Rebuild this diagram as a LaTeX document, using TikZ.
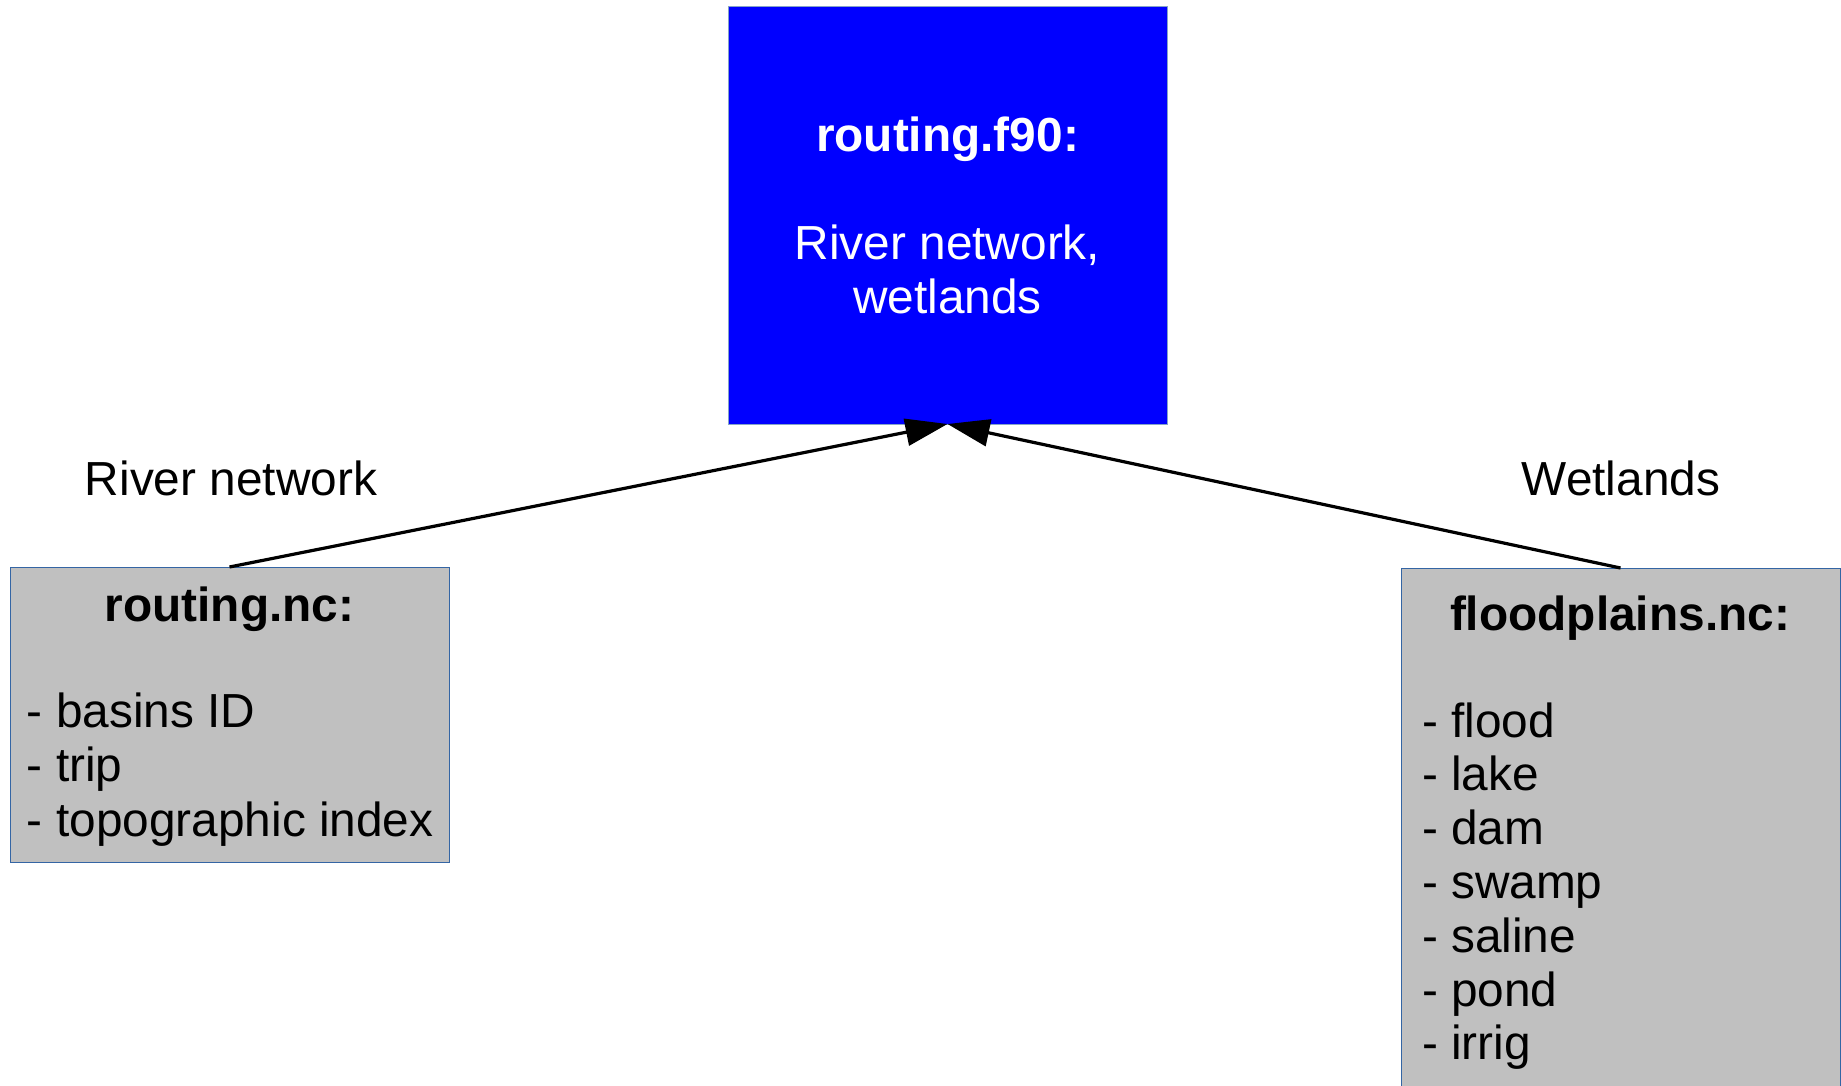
\documentclass[tikz,border=0pt]{standalone}
\usepackage{fontspec}
\setmainfont{Liberation Sans}
\usetikzlibrary{arrows.meta}

\definecolor{codeblue}{HTML}{0000FF}
\definecolor{filegrey}{HTML}{C0C0C0}
\definecolor{edgeblue}{HTML}{3465A4}

\tikzset{
  filebox/.style={draw=edgeblue, line width=1pt, fill=filegrey, rectangle,
    anchor=north west, inner sep=0pt, outer sep=0pt},
  codebox/.style={draw=edgeblue!60, line width=1pt, fill=codeblue, rectangle,
    anchor=north west, inner sep=0pt, outer sep=0pt},
  txt/.style={inner sep=0pt, outer sep=0pt, font=\fontsize{47.8}{53.8}\selectfont},
  head/.style={txt, font=\fontsize{47.8}{53.8}\selectfont\bfseries, anchor=base},
  item/.style={txt, anchor=base west},
  flow/.style={line width=3.2pt, -{Triangle[length=42pt,width=27pt]}},
}

\begin{document}
\begin{tikzpicture}[x=1pt, y=-1pt]
  \useasboundingbox (0,0) rectangle (1841,1086);

  % model source file
  \node[codebox, minimum width=439pt, minimum height=417pt] (f90) at (728,7) {};
  \node[head, text=white] (f90head) at (947.5,152) {routing.f90:};
  \node[txt, anchor=base, text=white] (f90a) at (947.5,259) {River network,};
  \node[txt, anchor=base, text=white] (f90b) at (947.5,313) {wetlands};

  % river routing input file
  \node[filebox, minimum width=439pt, minimum height=295pt] (rnc) at (10,567) {};
  \node[head] (rnchead) at (229.5,621) {routing.nc:};
  \node[item] (rnc1) at (27,727) {- basins ID};
  \node[item] (rnc2) at (27,781.5) {- trip};
  \node[item] (rnc3) at (27,836) {- topographic index};

  % floodplains input file
  \node[filebox, minimum width=439pt, minimum height=530pt] (fnc) at (1401,568) {};
  \node[head] (fnchead) at (1620,630) {floodplains.nc:};
  \foreach \t [count=\i from 0] in {flood,lake,dam,swamp,saline,pond,irrig}
    \node[item] (fnc\i) at (1422,737+53.8*\i) {- \t};

  % connector labels
  \node[txt, anchor=base] (lblriver) at (231,495) {River network};
  \node[txt, anchor=base] (lblwet) at (1621,495) {Wetlands};

  % data flow into the model
  \draw[flow] (rnc.north) -- (f90.south);
  \draw[flow] (fnc.north) -- (f90.south);
\end{tikzpicture}
\end{document}
